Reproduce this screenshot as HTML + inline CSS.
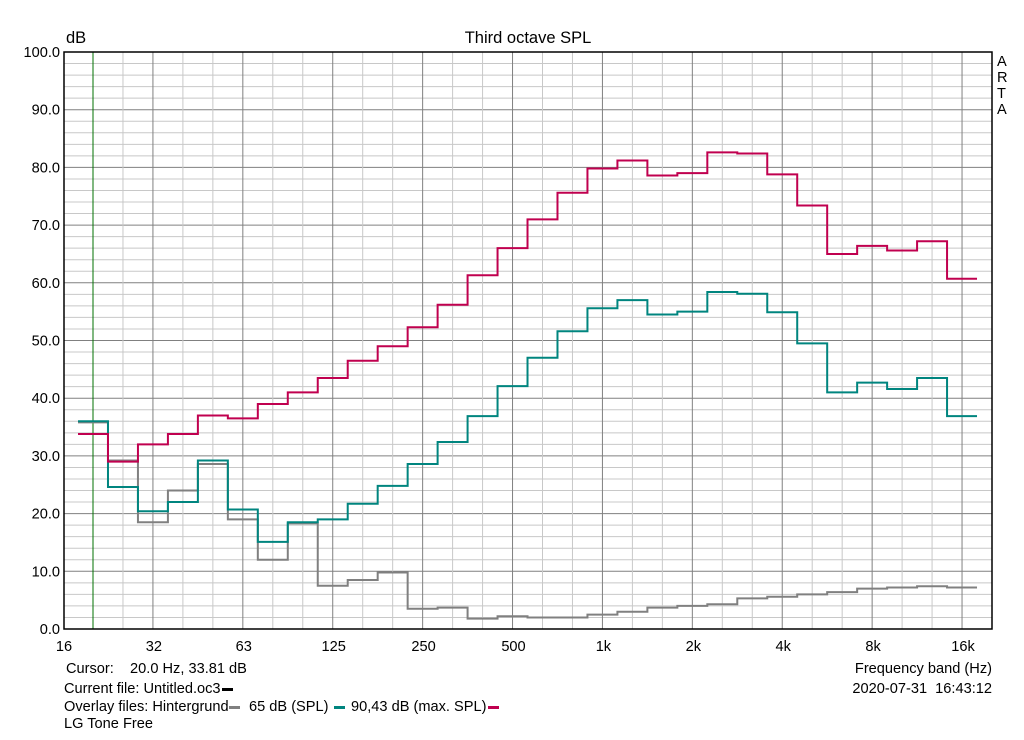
<!DOCTYPE html>
<html><head><meta charset="utf-8"><style>
body{margin:0;background:#fff;width:1024px;height:735px;overflow:hidden;font-family:"Liberation Sans",sans-serif}
svg text{font-family:"Liberation Sans",sans-serif;font-size:14.6px;fill:#000}
</style></head><body>
<svg id="c" width="1024" height="735">
<text x="528" y="43" text-anchor="middle" style="font-size:16.5px">Third octave SPL</text>
<text x="66" y="43" style="font-size:16.5px">dB</text>
<g id="grid"></g><g id="series"></g>
<rect x="64" y="52" width="928" height="577" fill="none" stroke="#000" stroke-width="1.5"/>
<g>
<text x="997" y="66">A</text><text x="997" y="82">R</text><text x="997" y="98">T</text><text x="997" y="114">A</text></g>
<text x="66" y="673">Cursor:&#160;&#160;&#160; 20.0 Hz, 33.81 dB</text>
<text x="64" y="693">Current file: Untitled.oc3</text>
<rect x="222" y="688" width="11" height="3" fill="#000"/>
<text x="64" y="711">Overlay files: Hintergrund</text>
<rect x="229" y="706" width="11" height="3" fill="#808080"/>
<text x="249" y="711">65 dB (SPL)</text>
<rect x="334" y="706" width="11" height="3" fill="#00857f"/>
<text x="351" y="711">90,43 dB (max. SPL)</text>
<rect x="488" y="706" width="11" height="3" fill="#c0004f"/>
<text x="64" y="728">LG Tone Free</text>
<text x="992" y="673" text-anchor="end">Frequency band (Hz)</text>
<text x="992" y="693" text-anchor="end">2020-07-31&#160;&#160;16:43:12</text>
</svg>
<script>
const bands=["20","25","31.5","40","50","63","80","100","125","160","200","250","315","400","500","630","800","1k","1.25k","1.6k","2k","2.5k","3.15k","4k","5k","6.3k","8k","10k","12.5k","16k"];
const redVals=[33.8,29,32,33.8,37,36.5,39,41,43.5,46.5,49,52.3,56.2,61.3,66,71,75.6,79.8,81.2,78.6,79,82.6,82.4,78.8,73.4,65,66.4,65.6,67.2,60.7];
const tealVals=[36,24.6,20.4,22,29.2,20.7,15.1,18.5,19,21.7,24.8,28.6,32.4,36.9,42.1,47,51.6,55.6,57,54.5,55,58.4,58.1,54.9,49.5,41,42.7,41.6,43.5,36.9];
const grayVals=[35.8,29.2,18.5,24,28.6,19,12,18.3,7.5,8.5,9.8,3.5,3.7,1.8,2.2,2,2,2.5,3,3.7,4,4.3,5.3,5.6,6,6.4,7,7.2,7.4,7.2];
const xTicks=["16","32","63","125","250","500","1k","2k","4k","8k","16k"];
const yTicks=[0,10,20,30,40,50,60,70,80,90,100];
const NS="http://www.w3.org/2000/svg";
const X0=64,X1=992,Y0=629,Y1=52,OCT=89.9;
function xOfBand(i){return 93+OCT/3*i;}
function xOfOct(k){return X0+OCT*k;}
function y(v){return Y0-(v/100)*(Y0-Y1);}
function el(t,a,p){const e=document.createElementNS(NS,t);for(const k in a)e.setAttribute(k,a[k]);p.appendChild(e);return e;}
const g=document.getElementById('grid');
for(let v=2;v<100;v+=2){
 const l=el('line',{x1:X0,x2:X1,y1:y(v),y2:y(v),stroke:v%10?'#c8c8c8':'#808080','stroke-width':1},g);
 
 
}
for(let j=-1;j<=31;j++){
 const x=xOfBand(j); if(x<=X0+1||x>=X1)continue;
 const major=(j+1)%3===0;
 const l=el('line',{x1:x,x2:x,y1:Y1,y2:Y0,stroke:j===0?'#007000':(major?'#808080':'#c8c8c8'),'stroke-width':1},g);
 
 
}
yTicks.forEach(v=>{
 const t=el('text',{x:60,y:y(v)+5,'text-anchor':'end'},g);t.textContent=v.toFixed(1);
 
 
});
xTicks.forEach((s,k)=>{
 const t=el('text',{x:xOfOct(k),y:651,'text-anchor':'middle'},g);t.textContent=s;
 
 
});
const sg=document.getElementById('series');
function step(vals,color,name){
 const w=OCT/3;let d='';
 vals.forEach((v,i)=>{const x=xOfBand(i);d+=(i?'L':'M')+(x-w/2)+' '+y(v)+'L'+(x+w/2)+' '+y(v);});
 const p=el('path',{d:d,fill:'none',stroke:color,'stroke-width':2},sg);
 
 
}
step(grayVals,'#808080','background-noise-series');
step(tealVals,'#00857f','spl-65db-series');
step(redVals,'#c0004f','max-spl-series');
</script>
</body></html>
